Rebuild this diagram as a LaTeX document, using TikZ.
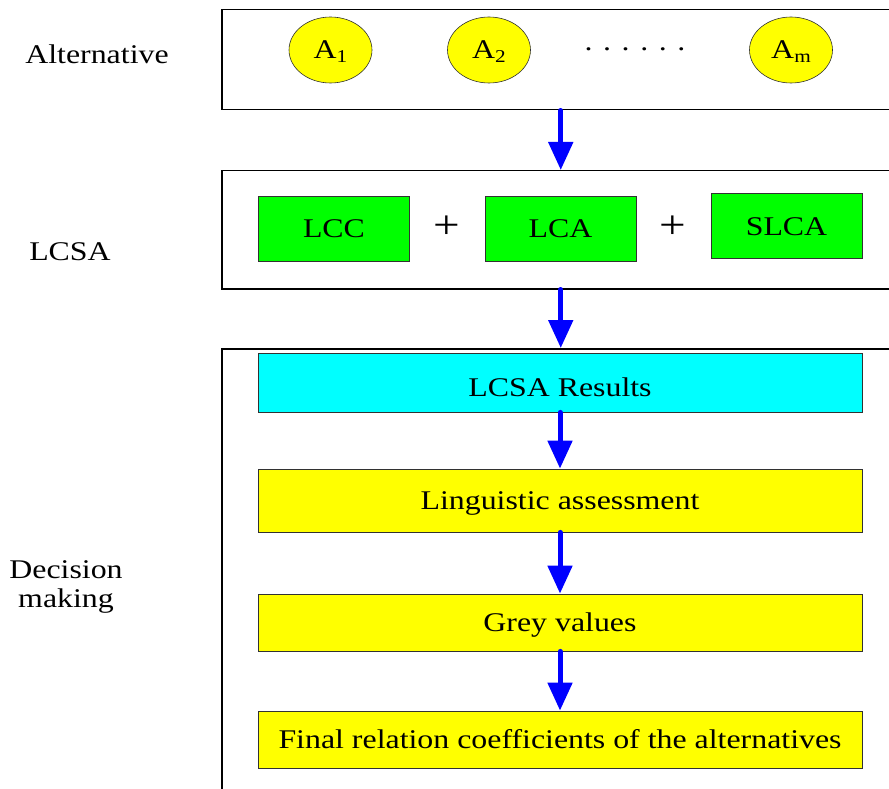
\documentclass[tikz,border=0pt]{standalone}
\usepackage{fontspec}
\setmainfont{Liberation Serif}[FakeStretch=1.18]
\usetikzlibrary{arrows.meta,shapes.geometric}
\definecolor{pureblue}{RGB}{0,0,255}
\definecolor{pureyellow}{RGB}{255,255,0}
\definecolor{puregreen}{RGB}{0,255,0}
\definecolor{purecyan}{RGB}{0,255,255}
\definecolor{edgegray}{RGB}{50,50,50}
\begin{document}
\begin{tikzpicture}[x=1pt,y=-1pt,
  every node/.style={font=\fontsize{27}{29}\selectfont, inner sep=0pt},
  outerbox/.style={rectangle, draw=black, line width=1.5pt, minimum width=678pt, anchor=north west},
  stagebox/.style={rectangle, draw=edgegray, line width=0.8pt, minimum width=604pt, text height=18pt, text depth=0pt},
  partbox/.style={rectangle, draw=edgegray, line width=0.8pt, fill=puregreen, minimum width=151pt, minimum height=65pt, text height=18pt, text depth=0pt},
  altnode/.style={ellipse, draw=edgegray, line width=0.6pt, fill=pureyellow, minimum width=83pt, minimum height=66pt, text height=18pt, text depth=0pt},
  flow/.style={draw=pureblue, line width=5pt, line cap=round, -{Triangle[width=24pt,length=28pt]}},
  sidelabel/.style={anchor=base},
  plussign/.style={font=\fontsize{40}{40}\selectfont}
]
\useasboundingbox (0,0) rectangle (889,789);

% outer frames
\node[outerbox, minimum height=100pt] (box1) at (221,9) {};
\node[outerbox, minimum height=118pt] (box2) at (221,170) {};
\node[outerbox, minimum height=470pt] (box3) at (221,348) {};

% side labels
\node[sidelabel] (lab1) at (97,64) {Alternative};
\node[sidelabel] (lab2) at (70,260) {LCSA};
\node[sidelabel, align=center] (lab3) at (66,607) {Decision\\making};

% alternatives
\node[altnode] (a1) at (330.5,50) {A\raisebox{-4pt}{\fontsize{18}{18}\selectfont 1}};
\node[altnode] (a2) at (489,50) {A\raisebox{-4pt}{\fontsize{18}{18}\selectfont 2}};
\node[anchor=base] (dots) at (635,51) {. . . . . .};
\node[altnode] (am) at (791,50) {A\raisebox{-4pt}{\fontsize{18}{18}\selectfont m}};

% LCSA parts
\node[partbox] (lcc) at (334,228.5) {LCC};
\node[plussign] (p1) at (447,227) {+};
\node[partbox] (lca) at (560.5,228.5) {LCA};
\node[plussign] (p2) at (673,227) {+};
\node[partbox] (slca) at (786.5,226) {SLCA};

% decision stages
\node[stagebox, fill=purecyan, minimum height=59pt, text height=28pt] (res) at (560,382.5) {LCSA Results};
\node[stagebox, fill=pureyellow, minimum height=63pt] (ling) at (560,500.5) {Linguistic assessment};
\node[stagebox, fill=pureyellow, minimum height=57pt] (grey) at (560,622.5) {Grey values};
\node[stagebox, fill=pureyellow, minimum height=57pt] (final) at (560,739.5) {Final relation coefficients of the alternatives};

% arrows
\draw[flow] (box1.south) -- (box2.north);
\draw[flow] (box2.south) -- (box3.north);
\draw[flow] (res.south) -- (ling.north);
\draw[flow] (ling.south) -- (grey.north);
\draw[flow] (grey.south) -- (final.north);
\end{tikzpicture}
\end{document}
